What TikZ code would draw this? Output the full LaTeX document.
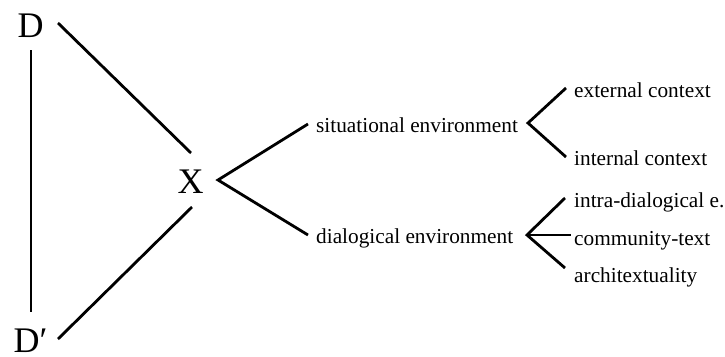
\documentclass[tikz,border=0pt]{standalone}
\usepackage{fontspec}
\setmainfont{Liberation Serif}
\begin{document}
\begin{tikzpicture}[x=1pt,y=-1pt,
  big/.style={font=\fontsize{36}{40}\selectfont, inner sep=0pt, anchor=base},
  lbl/.style={font=\fontsize{21.3}{24}\selectfont, inner sep=0pt, anchor=base west},
  edge/.style={line width=2.8pt}]
\useasboundingbox (0,0) rectangle (725,356);
% main letters
\node[big] (D)  at (30.5,37) {D};
\node[big] (X)  at (190.5,193) {X};
\node[big] (Dp) at (30.5,352) {D′};
% environments
\node[lbl] (sit) at (316,132) {situational environment};
\node[lbl] (dia) at (316,243) {dialogical environment};
% contexts
\node[lbl] (ext) at (574,97) {external context};
\node[lbl] (int) at (574,165) {internal context};
\node[lbl] (intra) at (574,207) {intra-dialogical e.};
\node[lbl] (comm) at (574,245) {community-text};
\node[lbl] (arch) at (574,282) {architextuality};
% triangle D - X - D'
\draw[edge] ([shift={(0.5,13)}]D.base) -- ([shift={(0.5,-40)}]Dp.base);
\draw[edge] ([shift={(27.5,-14)}]D.base) -- ([shift={(0.5,-40)}]X.base);
\draw[edge] ([shift={(1.5,14)}]X.base) -- ([shift={(27.5,-13)}]Dp.base);
% fork from X
\coordinate (xa) at ([shift={(27.5,-13)}]X.base);
\draw[edge] ([shift={(-8,-8)}]sit.base west) -- (xa) -- ([shift={(-8,-8)}]dia.base west);
% fork from situational environment
\coordinate (sa) at ([shift={(-46,26)}]ext.base west);
\draw[edge] ([shift={(-8,-9)}]ext.base west) -- (sa) -- ([shift={(-8,-8)}]int.base west);
% fork from dialogical environment
\coordinate (da) at ([shift={(-47,-10)}]comm.base west);
\draw[edge] ([shift={(-9,-9)}]intra.base west) -- (da) -- ([shift={(-9,-14)}]arch.base west);
\draw[edge] (da) -- ([shift={(-3,-10)}]comm.base west);
\end{tikzpicture}
\end{document}
